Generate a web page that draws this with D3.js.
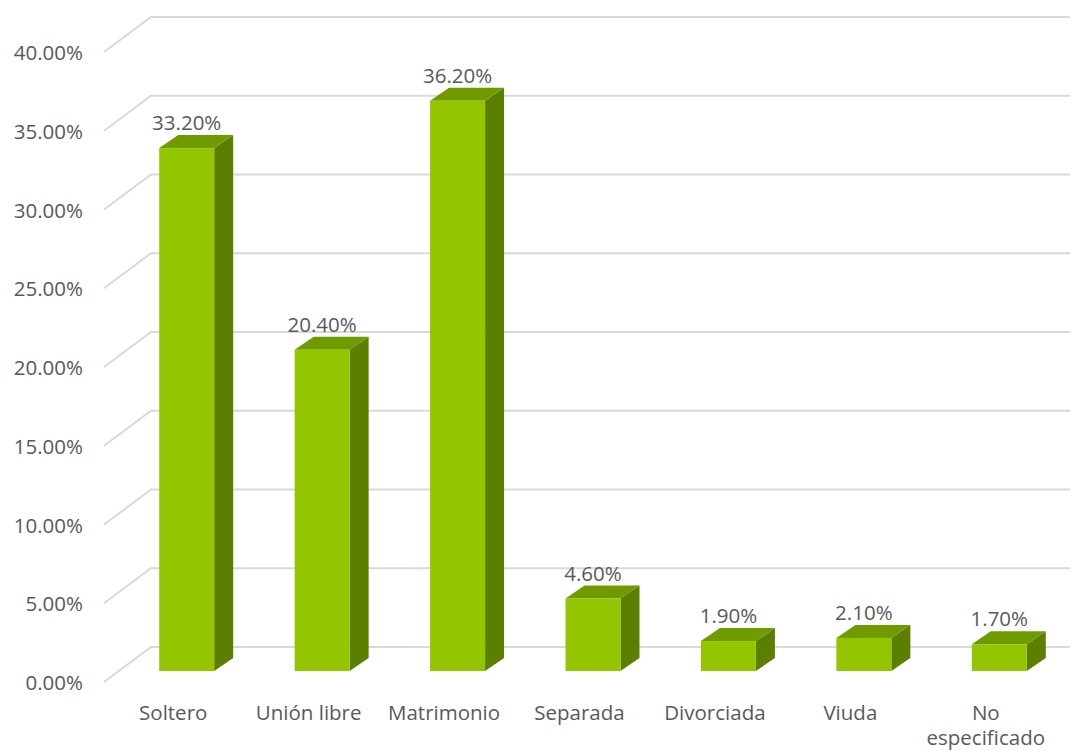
<!DOCTYPE html>
<html>
<head>
<meta charset="utf-8">
<script src="https://cdn.jsdelivr.net/npm/d3@7"></script>
<style>
  html, body { margin: 0; padding: 0; background: #ffffff; }
  svg { display: block; }
  text { font-family: "Open Sans", "Noto Sans", sans-serif; fill: #595959; }
</style>
</head>
<body>
<svg id="chart" width="1084" height="751"></svg>
<script>
const categories = ["Soltero", "Unión libre", "Matrimonio", "Separada", "Divorciada", "Viuda", "No especificado"];
const values = [33.2, 20.4, 36.2, 4.6, 1.9, 2.1, 1.7];
const valueLabels = ["33.20%", "20.40%", "36.20%", "4.60%", "1.90%", "2.10%", "1.70%"];
const yTicks = [0, 5, 10, 15, 20, 25, 30, 35, 40];
const yTickLabels = ["0.00%", "5.00%", "10.00%", "15.00%", "20.00%", "25.00%", "30.00%", "35.00%", "40.00%"];

const svg = d3.select("#chart");

// 3D geometry
const wallDX = 47, wallDY = 35;      // floor depth offset (front -> back)
const barDX = 19, barDY = 13;        // bar depth offset
const barFrontDrop = 24;             // bar front-face baseline below back wall baseline
const gridRight = 1070;
const wallLeft = 151;

const y = d3.scaleLinear().domain([0, 40]).range([647, 17]);
const x = d3.scaleBand().domain(categories).range([119, 1067]).paddingInner(0.594).paddingOuter(0.297);

// gridlines
const grid = svg.append("g");
yTicks.forEach(t => {
  const yb = y(t);
  grid.append("path")
    .attr("d", `M${wallLeft - wallDX},${yb + wallDY} L${wallLeft},${yb} L${gridRight},${yb}`)
    .attr("fill", "none")
    .attr("stroke", "#d9d9d9")
    .attr("stroke-width", 2);
});

// y tick labels
svg.append("g").selectAll("text").data(yTicks).join("text")
  .attr("x", 83)
  .attr("y", d => y(d) + wallDY + 8)
  .attr("text-anchor", "end")
  .attr("font-size", 20.5)
  .text((d, i) => yTickLabels[i]);

// bars
const bars = svg.append("g").selectAll("g").data(categories).join("g");
const bw = x.bandwidth();
bars.each(function(c, i) {
  const g = d3.select(this);
  const x0 = x(c);
  const yb = y(0) + barFrontDrop;
  const yt = y(values[i]) + barFrontDrop;
  // side face
  g.append("path")
    .attr("d", `M${x0 + bw},${yt} L${x0 + bw + barDX},${yt - barDY} L${x0 + bw + barDX},${yb - barDY} L${x0 + bw},${yb} Z`)
    .attr("fill", "#5b7f00");
  // top face
  g.append("path")
    .attr("d", `M${x0},${yt} L${x0 + barDX},${yt - barDY} L${x0 + bw + barDX},${yt - barDY} L${x0 + bw},${yt} Z`)
    .attr("fill", "#6f9b00");
  // front face
  g.append("rect")
    .attr("x", x0).attr("y", yt)
    .attr("width", bw).attr("height", yb - yt)
    .attr("fill", "#93c600");
  // value label
  g.append("text")
    .attr("x", x0 + bw / 2)
    .attr("y", yt - barDY - 5)
    .attr("text-anchor", "middle")
    .attr("font-size", 20.5)
    .text(valueLabels[i]);
});

// category labels
const catG = svg.append("g");
categories.forEach(c => {
  const words = c === "No especificado" ? ["No", "especificado"] : [c];
  const t = catG.append("text")
    .attr("x", x(c) + bw / 2 - 13.5)
    .attr("y", 720)
    .attr("text-anchor", "middle")
    .attr("font-size", 20.5);
  words.forEach((w, k) => {
    t.append("tspan")
      .attr("x", x(c) + bw / 2 - 13.5)
      .attr("dy", k === 0 ? 0 : 25)
      .text(w);
  });
});
</script>
</body>
</html>
